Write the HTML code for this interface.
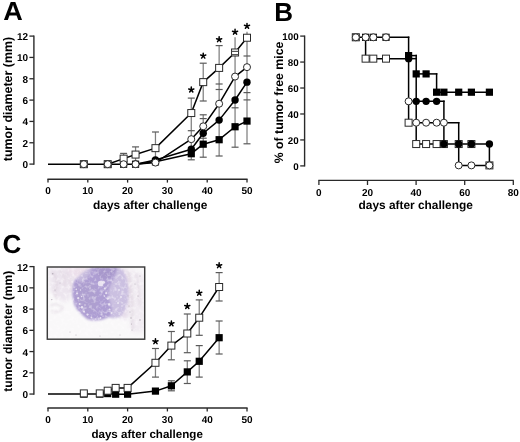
<!DOCTYPE html>
<html><head><meta charset="utf-8"><style>
html,body{margin:0;padding:0;background:#fff;}
body{width:520px;height:442px;overflow:hidden;}
svg{display:block;will-change:transform;}
text{font-family:"Liberation Sans",sans-serif;font-weight:bold;fill:#000;text-rendering:geometricPrecision;}
</style></head><body>
<svg width="520" height="442" viewBox="0 0 520 442" style="font-family:'Liberation Sans',sans-serif;font-weight:bold;">
<rect width="520" height="442" fill="#fff"/>
<text transform="translate(3.3,19.9) scale(1.04,1)" font-size="26">A</text>
<text x="274.30" y="20.90" font-size="26" text-anchor="start" >B</text>
<text x="2.40" y="253.20" font-size="26" text-anchor="start" >C</text>
<line x1="33.90" y1="35.50" x2="33.90" y2="164.70" stroke="#2a2a2a" stroke-width="1.4"/>
<line x1="29.40" y1="164.10" x2="33.90" y2="164.10" stroke="#2a2a2a" stroke-width="1.3"/>
<text x="28.00" y="168.10" font-size="10" text-anchor="end" >0</text>
<line x1="29.40" y1="142.77" x2="33.90" y2="142.77" stroke="#2a2a2a" stroke-width="1.3"/>
<text x="28.00" y="146.77" font-size="10" text-anchor="end" >2</text>
<line x1="29.40" y1="121.43" x2="33.90" y2="121.43" stroke="#2a2a2a" stroke-width="1.3"/>
<text x="28.00" y="125.43" font-size="10" text-anchor="end" >4</text>
<line x1="29.40" y1="100.10" x2="33.90" y2="100.10" stroke="#2a2a2a" stroke-width="1.3"/>
<text x="28.00" y="104.10" font-size="10" text-anchor="end" >6</text>
<line x1="29.40" y1="78.76" x2="33.90" y2="78.76" stroke="#2a2a2a" stroke-width="1.3"/>
<text x="28.00" y="82.76" font-size="10" text-anchor="end" >8</text>
<line x1="29.40" y1="57.43" x2="33.90" y2="57.43" stroke="#2a2a2a" stroke-width="1.3"/>
<text x="28.00" y="61.43" font-size="10" text-anchor="end" >10</text>
<line x1="29.40" y1="36.10" x2="33.90" y2="36.10" stroke="#2a2a2a" stroke-width="1.3"/>
<text x="28.00" y="40.10" font-size="10" text-anchor="end" >12</text>
<line x1="47.40" y1="179.20" x2="247.60" y2="179.20" stroke="#2a2a2a" stroke-width="1.4"/>
<line x1="48.00" y1="179.20" x2="48.00" y2="182.60" stroke="#2a2a2a" stroke-width="1.3"/>
<text x="48.00" y="194.10" font-size="10" text-anchor="middle" >0</text>
<line x1="87.80" y1="179.20" x2="87.80" y2="182.60" stroke="#2a2a2a" stroke-width="1.3"/>
<text x="87.80" y="194.10" font-size="10" text-anchor="middle" >10</text>
<line x1="127.60" y1="179.20" x2="127.60" y2="182.60" stroke="#2a2a2a" stroke-width="1.3"/>
<text x="127.60" y="194.10" font-size="10" text-anchor="middle" >20</text>
<line x1="167.40" y1="179.20" x2="167.40" y2="182.60" stroke="#2a2a2a" stroke-width="1.3"/>
<text x="167.40" y="194.10" font-size="10" text-anchor="middle" >30</text>
<line x1="207.20" y1="179.20" x2="207.20" y2="182.60" stroke="#2a2a2a" stroke-width="1.3"/>
<text x="207.20" y="194.10" font-size="10" text-anchor="middle" >40</text>
<line x1="247.00" y1="179.20" x2="247.00" y2="182.60" stroke="#2a2a2a" stroke-width="1.3"/>
<text x="247.00" y="194.10" font-size="10" text-anchor="middle" >50</text>
<text x="93.00" y="208.80" font-size="11.9" text-anchor="start" >days after challenge</text>
<text transform="translate(12.1,99.0) rotate(-90)" font-size="12.45" text-anchor="middle">tumor diameter (mm)</text>
<line x1="123.62" y1="153.40" x2="123.62" y2="164.00" stroke="#7f7f7f" stroke-width="1.25"/>
<line x1="120.12" y1="153.40" x2="127.12" y2="153.40" stroke="#5a5a5a" stroke-width="1.2"/>
<line x1="135.56" y1="146.90" x2="135.56" y2="164.00" stroke="#7f7f7f" stroke-width="1.25"/>
<line x1="132.06" y1="146.90" x2="139.06" y2="146.90" stroke="#5a5a5a" stroke-width="1.2"/>
<line x1="155.46" y1="132.00" x2="155.46" y2="162.00" stroke="#7f7f7f" stroke-width="1.25"/>
<line x1="151.96" y1="132.00" x2="158.96" y2="132.00" stroke="#5a5a5a" stroke-width="1.2"/>
<line x1="191.28" y1="98.10" x2="191.28" y2="159.80" stroke="#7f7f7f" stroke-width="1.25"/>
<line x1="187.78" y1="98.10" x2="194.78" y2="98.10" stroke="#5a5a5a" stroke-width="1.2"/>
<line x1="187.78" y1="130.70" x2="194.78" y2="130.70" stroke="#5a5a5a" stroke-width="1.2"/>
<line x1="187.78" y1="159.80" x2="194.78" y2="159.80" stroke="#5a5a5a" stroke-width="1.2"/>
<line x1="203.22" y1="63.20" x2="203.22" y2="101.00" stroke="#7f7f7f" stroke-width="1.25"/>
<line x1="199.72" y1="63.20" x2="206.72" y2="63.20" stroke="#5a5a5a" stroke-width="1.2"/>
<line x1="199.72" y1="101.00" x2="206.72" y2="101.00" stroke="#5a5a5a" stroke-width="1.2"/>
<line x1="203.22" y1="114.80" x2="203.22" y2="157.20" stroke="#7f7f7f" stroke-width="1.25"/>
<line x1="199.72" y1="114.80" x2="206.72" y2="114.80" stroke="#5a5a5a" stroke-width="1.2"/>
<line x1="199.72" y1="118.60" x2="206.72" y2="118.60" stroke="#5a5a5a" stroke-width="1.2"/>
<line x1="199.72" y1="138.20" x2="206.72" y2="138.20" stroke="#5a5a5a" stroke-width="1.2"/>
<line x1="199.72" y1="157.20" x2="206.72" y2="157.20" stroke="#5a5a5a" stroke-width="1.2"/>
<line x1="219.14" y1="45.60" x2="219.14" y2="156.00" stroke="#7f7f7f" stroke-width="1.25"/>
<line x1="215.64" y1="45.60" x2="222.64" y2="45.60" stroke="#5a5a5a" stroke-width="1.2"/>
<line x1="215.64" y1="84.00" x2="222.64" y2="84.00" stroke="#5a5a5a" stroke-width="1.2"/>
<line x1="215.64" y1="89.50" x2="222.64" y2="89.50" stroke="#5a5a5a" stroke-width="1.2"/>
<line x1="215.64" y1="156.00" x2="222.64" y2="156.00" stroke="#5a5a5a" stroke-width="1.2"/>
<line x1="235.06" y1="37.20" x2="235.06" y2="147.20" stroke="#7f7f7f" stroke-width="1.25"/>
<line x1="231.56" y1="107.80" x2="238.56" y2="107.80" stroke="#5a5a5a" stroke-width="1.2"/>
<line x1="231.56" y1="147.20" x2="238.56" y2="147.20" stroke="#5a5a5a" stroke-width="1.2"/>
<line x1="247.00" y1="31.80" x2="247.00" y2="143.80" stroke="#7f7f7f" stroke-width="1.25"/>
<line x1="243.50" y1="56.00" x2="250.50" y2="56.00" stroke="#5a5a5a" stroke-width="1.2"/>
<line x1="243.50" y1="92.60" x2="250.50" y2="92.60" stroke="#5a5a5a" stroke-width="1.2"/>
<line x1="243.50" y1="99.90" x2="250.50" y2="99.90" stroke="#5a5a5a" stroke-width="1.2"/>
<line x1="243.50" y1="143.80" x2="250.50" y2="143.80" stroke="#5a5a5a" stroke-width="1.2"/>
<polyline points="48.00,164.20 135.56,164.20" fill="none" stroke="#000" stroke-width="1.5" stroke-linejoin="round"/>
<polyline points="107.70,164.20 123.62,158.64 135.56,154.57 155.46,148.15 191.28,113.05 203.22,82.13 219.14,67.90 235.06,52.49 247.00,37.73" fill="none" stroke="#000" stroke-width="1.5" stroke-linejoin="round"/>
<polyline points="135.56,164.20 155.46,159.92 191.28,149.22 203.22,133.28 219.14,120.12 235.06,100.00 247.00,82.13" fill="none" stroke="#000" stroke-width="1.5" stroke-linejoin="round"/>
<polyline points="135.56,164.20 155.46,161.85 191.28,153.71 203.22,144.19 219.14,139.70 235.06,126.75 247.00,121.08" fill="none" stroke="#000" stroke-width="1.5" stroke-linejoin="round"/>
<polyline points="135.56,164.20 155.46,162.59 191.28,139.16 203.22,126.32 219.14,103.74 235.06,76.57 247.00,67.15" fill="none" stroke="#000" stroke-width="1.5" stroke-linejoin="round"/>
<circle cx="83.82" cy="164.20" r="3.7" fill="#000"/>
<circle cx="107.70" cy="164.20" r="3.7" fill="#000"/>
<circle cx="123.62" cy="164.20" r="3.7" fill="#000"/>
<circle cx="135.56" cy="164.20" r="3.7" fill="#000"/>
<circle cx="155.46" cy="159.92" r="3.7" fill="#000"/>
<circle cx="191.28" cy="149.22" r="3.7" fill="#000"/>
<circle cx="203.22" cy="133.28" r="3.7" fill="#000"/>
<circle cx="219.14" cy="120.12" r="3.7" fill="#000"/>
<circle cx="235.06" cy="100.00" r="3.7" fill="#000"/>
<circle cx="247.00" cy="82.13" r="3.7" fill="#000"/>
<rect x="80.22" y="160.60" width="7.2" height="7.2" fill="#000"/>
<rect x="104.10" y="160.60" width="7.2" height="7.2" fill="#000"/>
<rect x="120.02" y="160.60" width="7.2" height="7.2" fill="#000"/>
<rect x="131.96" y="160.60" width="7.2" height="7.2" fill="#000"/>
<rect x="151.86" y="158.25" width="7.2" height="7.2" fill="#000"/>
<rect x="187.68" y="150.11" width="7.2" height="7.2" fill="#000"/>
<rect x="199.62" y="140.59" width="7.2" height="7.2" fill="#000"/>
<rect x="215.54" y="136.10" width="7.2" height="7.2" fill="#000"/>
<rect x="231.46" y="123.15" width="7.2" height="7.2" fill="#000"/>
<rect x="243.40" y="117.48" width="7.2" height="7.2" fill="#000"/>
<rect x="80.32" y="160.70" width="7" height="7" fill="#fff" stroke="#2a2a2a" stroke-width="1"/>
<rect x="104.20" y="160.70" width="7" height="7" fill="#fff" stroke="#2a2a2a" stroke-width="1"/>
<rect x="120.12" y="155.14" width="7" height="7" fill="#fff" stroke="#2a2a2a" stroke-width="1"/>
<rect x="132.06" y="151.07" width="7" height="7" fill="#fff" stroke="#2a2a2a" stroke-width="1"/>
<rect x="151.96" y="144.65" width="7" height="7" fill="#fff" stroke="#2a2a2a" stroke-width="1"/>
<rect x="187.78" y="109.55" width="7" height="7" fill="#fff" stroke="#2a2a2a" stroke-width="1"/>
<rect x="199.72" y="78.63" width="7" height="7" fill="#fff" stroke="#2a2a2a" stroke-width="1"/>
<rect x="215.64" y="64.40" width="7" height="7" fill="#fff" stroke="#2a2a2a" stroke-width="1"/>
<rect x="231.56" y="48.99" width="7" height="7" fill="#fff" stroke="#2a2a2a" stroke-width="1"/>
<rect x="243.50" y="34.23" width="7" height="7" fill="#fff" stroke="#2a2a2a" stroke-width="1"/>
<circle cx="83.82" cy="164.20" r="3.5" fill="#fff" stroke="#2a2a2a" stroke-width="1"/>
<circle cx="107.70" cy="164.20" r="3.5" fill="#fff" stroke="#2a2a2a" stroke-width="1"/>
<circle cx="123.62" cy="164.20" r="3.5" fill="#fff" stroke="#2a2a2a" stroke-width="1"/>
<circle cx="135.56" cy="164.20" r="3.5" fill="#fff" stroke="#2a2a2a" stroke-width="1"/>
<circle cx="155.46" cy="162.59" r="3.5" fill="#fff" stroke="#2a2a2a" stroke-width="1"/>
<circle cx="191.28" cy="139.16" r="3.5" fill="#fff" stroke="#2a2a2a" stroke-width="1"/>
<circle cx="203.22" cy="126.32" r="3.5" fill="#fff" stroke="#2a2a2a" stroke-width="1"/>
<circle cx="219.14" cy="103.74" r="3.5" fill="#fff" stroke="#2a2a2a" stroke-width="1"/>
<circle cx="235.06" cy="76.57" r="3.5" fill="#fff" stroke="#2a2a2a" stroke-width="1"/>
<circle cx="247.00" cy="67.15" r="3.5" fill="#fff" stroke="#2a2a2a" stroke-width="1"/>
<line x1="231.76" y1="51.40" x2="238.36" y2="51.40" stroke="#555" stroke-width="1.2"/>
<line x1="231.76" y1="54.60" x2="238.36" y2="54.60" stroke="#555" stroke-width="1.2"/>
<path d="M191.28,89.80L191.28,87.10M191.28,89.80L193.85,88.97M191.28,89.80L192.87,91.98M191.28,89.80L189.69,91.98M191.28,89.80L188.71,88.97" stroke="#000" stroke-width="1.5" stroke-linecap="round" fill="none"/>
<path d="M203.22,55.90L203.22,53.20M203.22,55.90L205.79,55.07M203.22,55.90L204.81,58.08M203.22,55.90L201.63,58.08M203.22,55.90L200.65,55.07" stroke="#000" stroke-width="1.5" stroke-linecap="round" fill="none"/>
<path d="M219.14,39.50L219.14,36.80M219.14,39.50L221.71,38.67M219.14,39.50L220.73,41.68M219.14,39.50L217.55,41.68M219.14,39.50L216.57,38.67" stroke="#000" stroke-width="1.5" stroke-linecap="round" fill="none"/>
<path d="M235.06,32.00L235.06,29.30M235.06,32.00L237.63,31.17M235.06,32.00L236.65,34.18M235.06,32.00L233.47,34.18M235.06,32.00L232.49,31.17" stroke="#000" stroke-width="1.5" stroke-linecap="round" fill="none"/>
<path d="M247.00,26.10L247.00,23.40M247.00,26.10L249.57,25.27M247.00,26.10L248.59,28.28M247.00,26.10L245.41,28.28M247.00,26.10L244.43,25.27" stroke="#000" stroke-width="1.5" stroke-linecap="round" fill="none"/>
<line x1="304.60" y1="35.50" x2="304.60" y2="166.50" stroke="#2a2a2a" stroke-width="1.4"/>
<line x1="300.20" y1="165.90" x2="304.60" y2="165.90" stroke="#2a2a2a" stroke-width="1.3"/>
<text x="298.70" y="169.70" font-size="9.8" text-anchor="end" >0</text>
<line x1="300.20" y1="139.94" x2="304.60" y2="139.94" stroke="#2a2a2a" stroke-width="1.3"/>
<text x="298.70" y="143.74" font-size="9.8" text-anchor="end" >20</text>
<line x1="300.20" y1="113.98" x2="304.60" y2="113.98" stroke="#2a2a2a" stroke-width="1.3"/>
<text x="298.70" y="117.78" font-size="9.8" text-anchor="end" >40</text>
<line x1="300.20" y1="88.02" x2="304.60" y2="88.02" stroke="#2a2a2a" stroke-width="1.3"/>
<text x="298.70" y="91.82" font-size="9.8" text-anchor="end" >60</text>
<line x1="300.20" y1="62.06" x2="304.60" y2="62.06" stroke="#2a2a2a" stroke-width="1.3"/>
<text x="298.70" y="65.86" font-size="9.8" text-anchor="end" >80</text>
<line x1="300.20" y1="36.10" x2="304.60" y2="36.10" stroke="#2a2a2a" stroke-width="1.3"/>
<text x="298.70" y="39.90" font-size="9.8" text-anchor="end" >100</text>
<line x1="318.30" y1="180.40" x2="513.80" y2="180.40" stroke="#2a2a2a" stroke-width="1.4"/>
<line x1="318.90" y1="180.40" x2="318.90" y2="185.00" stroke="#2a2a2a" stroke-width="1.3"/>
<text x="318.90" y="195.50" font-size="10" text-anchor="middle" >0</text>
<line x1="367.50" y1="180.40" x2="367.50" y2="185.00" stroke="#2a2a2a" stroke-width="1.3"/>
<text x="367.50" y="195.50" font-size="10" text-anchor="middle" >20</text>
<line x1="416.10" y1="180.40" x2="416.10" y2="185.00" stroke="#2a2a2a" stroke-width="1.3"/>
<text x="416.10" y="195.50" font-size="10" text-anchor="middle" >40</text>
<line x1="464.70" y1="180.40" x2="464.70" y2="185.00" stroke="#2a2a2a" stroke-width="1.3"/>
<text x="464.70" y="195.50" font-size="10" text-anchor="middle" >60</text>
<line x1="513.30" y1="180.40" x2="513.30" y2="185.00" stroke="#2a2a2a" stroke-width="1.3"/>
<text x="513.30" y="195.50" font-size="10" text-anchor="middle" >80</text>
<text x="358.50" y="209.10" font-size="11.9" text-anchor="start" >days after challenge</text>
<text transform="translate(283.2,102.5) rotate(-90)" font-size="12.3" text-anchor="middle">% of tumor free mice</text>
<line x1="355.80" y1="37.30" x2="408.60" y2="37.30" stroke="#000" stroke-width="1.5" stroke-linecap="square"/>
<line x1="365.60" y1="58.65" x2="408.60" y2="58.65" stroke="#000" stroke-width="1.5" stroke-linecap="square"/>
<line x1="408.60" y1="55.60" x2="416.20" y2="55.60" stroke="#000" stroke-width="1.5" stroke-linecap="square"/>
<line x1="408.60" y1="58.65" x2="416.20" y2="58.65" stroke="#000" stroke-width="1.5" stroke-linecap="square"/>
<line x1="408.60" y1="101.35" x2="443.90" y2="101.35" stroke="#000" stroke-width="1.5" stroke-linecap="square"/>
<line x1="408.60" y1="122.70" x2="458.70" y2="122.70" stroke="#000" stroke-width="1.5" stroke-linecap="square"/>
<line x1="416.20" y1="73.90" x2="436.60" y2="73.90" stroke="#000" stroke-width="1.5" stroke-linecap="square"/>
<line x1="436.60" y1="92.20" x2="489.40" y2="92.20" stroke="#000" stroke-width="1.5" stroke-linecap="square"/>
<line x1="416.20" y1="144.05" x2="489.40" y2="144.05" stroke="#000" stroke-width="1.5" stroke-linecap="square"/>
<line x1="458.70" y1="165.40" x2="489.40" y2="165.40" stroke="#000" stroke-width="1.5" stroke-linecap="square"/>
<line x1="365.60" y1="37.30" x2="365.60" y2="58.65" stroke="#000" stroke-width="1.5" stroke-linecap="square"/>
<line x1="408.60" y1="37.30" x2="408.60" y2="122.70" stroke="#000" stroke-width="1.5" stroke-linecap="square"/>
<line x1="416.20" y1="55.60" x2="416.20" y2="144.05" stroke="#000" stroke-width="1.5" stroke-linecap="square"/>
<line x1="436.60" y1="73.90" x2="436.60" y2="92.20" stroke="#000" stroke-width="1.5" stroke-linecap="square"/>
<line x1="443.90" y1="101.35" x2="443.90" y2="144.05" stroke="#000" stroke-width="1.5" stroke-linecap="square"/>
<line x1="458.70" y1="122.70" x2="458.70" y2="165.40" stroke="#000" stroke-width="1.5" stroke-linecap="square"/>
<line x1="489.40" y1="144.05" x2="489.40" y2="165.40" stroke="#000" stroke-width="1.5" stroke-linecap="square"/>
<rect x="352.20" y="33.70" width="7.2" height="7.2" fill="#000"/>
<rect x="362.00" y="33.70" width="7.2" height="7.2" fill="#000"/>
<rect x="369.70" y="33.70" width="7.2" height="7.2" fill="#000"/>
<rect x="382.40" y="33.70" width="7.2" height="7.2" fill="#000"/>
<rect x="352.30" y="33.80" width="7" height="7" fill="#fff" stroke="#2a2a2a" stroke-width="1"/>
<rect x="362.10" y="55.15" width="7" height="7" fill="#fff" stroke="#2a2a2a" stroke-width="1"/>
<rect x="369.80" y="55.15" width="7" height="7" fill="#fff" stroke="#2a2a2a" stroke-width="1"/>
<rect x="382.50" y="55.15" width="7" height="7" fill="#fff" stroke="#2a2a2a" stroke-width="1"/>
<rect x="405.10" y="119.20" width="7" height="7" fill="#fff" stroke="#2a2a2a" stroke-width="1"/>
<rect x="412.70" y="140.55" width="7" height="7" fill="#fff" stroke="#2a2a2a" stroke-width="1"/>
<rect x="422.60" y="140.55" width="7" height="7" fill="#fff" stroke="#2a2a2a" stroke-width="1"/>
<rect x="433.10" y="140.55" width="7" height="7" fill="#fff" stroke="#2a2a2a" stroke-width="1"/>
<rect x="440.40" y="140.55" width="7" height="7" fill="#fff" stroke="#2a2a2a" stroke-width="1"/>
<rect x="455.20" y="140.55" width="7" height="7" fill="#fff" stroke="#2a2a2a" stroke-width="1"/>
<rect x="467.90" y="140.55" width="7" height="7" fill="#fff" stroke="#2a2a2a" stroke-width="1"/>
<rect x="485.90" y="161.90" width="7" height="7" fill="#fff" stroke="#2a2a2a" stroke-width="1"/>
<rect x="405.00" y="52.00" width="7.2" height="7.2" fill="#000"/>
<rect x="412.60" y="70.30" width="7.2" height="7.2" fill="#000"/>
<rect x="422.50" y="70.30" width="7.2" height="7.2" fill="#000"/>
<rect x="433.00" y="88.60" width="7.2" height="7.2" fill="#000"/>
<rect x="440.30" y="88.60" width="7.2" height="7.2" fill="#000"/>
<rect x="455.10" y="88.60" width="7.2" height="7.2" fill="#000"/>
<rect x="467.80" y="88.60" width="7.2" height="7.2" fill="#000"/>
<rect x="485.80" y="88.60" width="7.2" height="7.2" fill="#000"/>
<circle cx="408.60" cy="58.65" r="3.7" fill="#000"/>
<circle cx="416.20" cy="101.35" r="3.7" fill="#000"/>
<circle cx="426.10" cy="101.35" r="3.7" fill="#000"/>
<circle cx="436.60" cy="101.35" r="3.7" fill="#000"/>
<circle cx="443.90" cy="144.05" r="3.7" fill="#000"/>
<circle cx="458.70" cy="144.05" r="3.7" fill="#000"/>
<circle cx="471.40" cy="144.05" r="3.7" fill="#000"/>
<circle cx="489.40" cy="144.05" r="3.7" fill="#000"/>
<circle cx="355.80" cy="37.30" r="3.5" fill="#fff" stroke="#2a2a2a" stroke-width="1"/>
<circle cx="365.60" cy="37.30" r="3.5" fill="#fff" stroke="#2a2a2a" stroke-width="1"/>
<circle cx="373.30" cy="37.30" r="3.5" fill="#fff" stroke="#2a2a2a" stroke-width="1"/>
<circle cx="386.00" cy="37.30" r="3.5" fill="#fff" stroke="#2a2a2a" stroke-width="1"/>
<circle cx="408.60" cy="101.35" r="3.5" fill="#fff" stroke="#2a2a2a" stroke-width="1"/>
<circle cx="416.20" cy="122.70" r="3.5" fill="#fff" stroke="#2a2a2a" stroke-width="1"/>
<circle cx="426.10" cy="122.70" r="3.5" fill="#fff" stroke="#2a2a2a" stroke-width="1"/>
<circle cx="436.60" cy="122.70" r="3.5" fill="#fff" stroke="#2a2a2a" stroke-width="1"/>
<circle cx="443.90" cy="122.70" r="3.5" fill="#fff" stroke="#2a2a2a" stroke-width="1"/>
<circle cx="458.70" cy="165.40" r="3.5" fill="#fff" stroke="#2a2a2a" stroke-width="1"/>
<circle cx="471.40" cy="165.40" r="3.5" fill="#fff" stroke="#2a2a2a" stroke-width="1"/>
<circle cx="489.40" cy="165.40" r="3.5" fill="#fff" stroke="#2a2a2a" stroke-width="1"/>
<line x1="33.90" y1="266.01" x2="33.90" y2="394.65" stroke="#2a2a2a" stroke-width="1.4"/>
<line x1="29.40" y1="394.05" x2="33.90" y2="394.05" stroke="#2a2a2a" stroke-width="1.3"/>
<text x="28.00" y="398.05" font-size="10" text-anchor="end" >0</text>
<line x1="29.40" y1="372.81" x2="33.90" y2="372.81" stroke="#2a2a2a" stroke-width="1.3"/>
<text x="28.00" y="376.81" font-size="10" text-anchor="end" >2</text>
<line x1="29.40" y1="351.57" x2="33.90" y2="351.57" stroke="#2a2a2a" stroke-width="1.3"/>
<text x="28.00" y="355.57" font-size="10" text-anchor="end" >4</text>
<line x1="29.40" y1="330.33" x2="33.90" y2="330.33" stroke="#2a2a2a" stroke-width="1.3"/>
<text x="28.00" y="334.33" font-size="10" text-anchor="end" >6</text>
<line x1="29.40" y1="309.09" x2="33.90" y2="309.09" stroke="#2a2a2a" stroke-width="1.3"/>
<text x="28.00" y="313.09" font-size="10" text-anchor="end" >8</text>
<line x1="29.40" y1="287.85" x2="33.90" y2="287.85" stroke="#2a2a2a" stroke-width="1.3"/>
<text x="28.00" y="291.85" font-size="10" text-anchor="end" >10</text>
<line x1="29.40" y1="266.61" x2="33.90" y2="266.61" stroke="#2a2a2a" stroke-width="1.3"/>
<text x="28.00" y="270.61" font-size="10" text-anchor="end" >12</text>
<line x1="47.40" y1="408.05" x2="247.60" y2="408.05" stroke="#2a2a2a" stroke-width="1.4"/>
<line x1="48.00" y1="408.05" x2="48.00" y2="411.45" stroke="#2a2a2a" stroke-width="1.3"/>
<text x="48.00" y="423.00" font-size="10" text-anchor="middle" >0</text>
<line x1="87.80" y1="408.05" x2="87.80" y2="411.45" stroke="#2a2a2a" stroke-width="1.3"/>
<text x="87.80" y="423.00" font-size="10" text-anchor="middle" >10</text>
<line x1="127.60" y1="408.05" x2="127.60" y2="411.45" stroke="#2a2a2a" stroke-width="1.3"/>
<text x="127.60" y="423.00" font-size="10" text-anchor="middle" >20</text>
<line x1="167.40" y1="408.05" x2="167.40" y2="411.45" stroke="#2a2a2a" stroke-width="1.3"/>
<text x="167.40" y="423.00" font-size="10" text-anchor="middle" >30</text>
<line x1="207.20" y1="408.05" x2="207.20" y2="411.45" stroke="#2a2a2a" stroke-width="1.3"/>
<text x="207.20" y="423.00" font-size="10" text-anchor="middle" >40</text>
<line x1="247.00" y1="408.05" x2="247.00" y2="411.45" stroke="#2a2a2a" stroke-width="1.3"/>
<text x="247.00" y="423.00" font-size="10" text-anchor="middle" >50</text>
<text x="91.40" y="437.90" font-size="11.6" text-anchor="start" >days after challenge</text>
<text transform="translate(12.0,331.2) rotate(-90)" font-size="12.1" text-anchor="middle">tumor diameter (mm)</text>
<defs>
<radialGradient id="blob" cx="0.5" cy="0.5" r="0.5">
<stop offset="0" stop-color="#9c88cc"/><stop offset="0.7" stop-color="#a795d2"/><stop offset="1" stop-color="#a795d2" stop-opacity="0"/>
</radialGradient>
<filter id="blur1" x="-20%" y="-20%" width="140%" height="140%"><feGaussianBlur stdDeviation="0.9"/></filter><filter id="blur05" x="-50%" y="-50%" width="200%" height="200%"><feGaussianBlur stdDeviation="0.65"/></filter><filter id="noise" x="0" y="0" width="100%" height="100%" filterUnits="userSpaceOnUse"><feTurbulence type="fractalNoise" baseFrequency="0.28" numOctaves="2" seed="7"/><feColorMatrix type="matrix" values="0 0 0 0 1  0 0 0 0 0.98  0 0 0 0 1  1.5 0 0 0 -0.72"/><feGaussianBlur stdDeviation="0.45"/></filter><filter id="blur12" x="-30%" y="-30%" width="160%" height="160%"><feGaussianBlur stdDeviation="1.1"/></filter><filter id="blur2" x="-20%" y="-20%" width="140%" height="140%"><feGaussianBlur stdDeviation="2"/></filter>
<clipPath id="mclip"><rect x="47.5" y="267" width="97.5" height="72"/></clipPath>
</defs>
<rect x="47.3" y="266.8" width="97.9" height="72.6" fill="#f9f8f9"/>
<g clip-path="url(#mclip)">
<g filter="url(#blur2)">
<path d="M49,268 C60,267 72,267 84,268 C80,274 76,280 73,288 C71,296 70,300 66,302 C60,300 54,296 50,290 Z" fill="#ece5ee"/>
<path d="M66,267 L92,267 C90,272 86,276 78,278 C72,276 68,272 66,267 Z" fill="#ecdfea"/>
<path d="M117,267 C124,268 130,270 134,276 C132,290 130,304 128,318 C124,320 120,318 118,314 C120,300 121,285 117,267 Z" fill="#e6dcea"/>
<path d="M126,268 C134,270 142,272 145,276 L145,330 C140,334 134,334 130,330 C132,310 132,290 126,268 Z" fill="#f1ecf2"/>
</g>
<g filter="url(#blur1)">
<path d="M104,268 L121,268 C125,272 128,281 128.5,292 C128.5,302 126,310 121,316 C116,319 110,319 106,316 Z" fill="#cbc0e1"/>
<path d="M90,267.5 L117,267.5 C117,272 114,278 111,284 C108,290 108,296 110,302 C112,307 113,312 110,316 C106,319 100,320.5 94,320.5 C90,320.5 87,319.5 84,316.5 C80,313 77,310 75,306.5 C73,302 72.3,297 72.3,291 C72.3,286 73.5,282 75,280 C78,277 82,275 86,272 C88,270 89,268.5 90,267.5 Z" fill="#ae9ed3"/>
<path d="M76,286 C80,281 88,281 94,284 C98,290 98,300 96,308 C92,314 85,313 80,307 C77,301 75,292 76,286 Z" fill="#ae9fd0"/>
<path d="M96,267.5 L117,267.5 C116,273 112,278 106,279 C100,279 97,274 96,267.5 Z" fill="#a898cc"/>
<path d="M80,275 C84,271 88,268 92,267.5 C92,272 88,278 82,282 C78,283 76,280 80,275 Z" fill="#cabfe0" opacity="0.8"/>
</g>
<g filter="url(#blur12)" fill="none" stroke-width="2" opacity="0.55">
<path d="M52,272 C56,276 58,282 56,288 C54,292 55,296 58,299" stroke="#d9cdd9"/>
<path d="M60,270 C64,274 66,280 64,286" stroke="#ddd0dc"/>
<path d="M66,272 C70,278 72,284 70,292" stroke="#e0d3e0"/>
<path d="M50,306 C55,303 60,304 63,308 C60,312 55,313 51,311" stroke="#ddd3de"/>
<path d="M128,272 C131,280 130,290 132,300 C133,310 131,320 133,330" stroke="#d8ccd8"/>
<path d="M136,274 C139,284 138,294 140,306" stroke="#ddd2de"/>
</g>
<rect x="47" y="266" width="99" height="74" filter="url(#noise)"/>
<g filter="url(#blur05)">
<circle cx="100.6" cy="283.5" r="2.86" fill="#f1ecf6" opacity="0.85"/>
<circle cx="103.5" cy="282.3" r="1.54" fill="#f1ecf6" opacity="0.85"/>
<circle cx="104.8" cy="288.5" r="1.10" fill="#f1ecf6" opacity="0.85"/>
<circle cx="106.2" cy="293.2" r="1.10" fill="#f1ecf6" opacity="0.85"/>
<circle cx="107.8" cy="298.6" r="1.21" fill="#f1ecf6" opacity="0.85"/>
<circle cx="109.0" cy="304.3" r="1.10" fill="#f1ecf6" opacity="0.85"/>
<circle cx="109.6" cy="309.4" r="0.99" fill="#f1ecf6" opacity="0.85"/>
<circle cx="111.5" cy="313" r="0.99" fill="#f1ecf6" opacity="0.85"/>
<circle cx="104.5" cy="296" r="0.66" fill="#f1ecf6" opacity="0.85"/>
<circle cx="77.0" cy="293.5" r="0.99" fill="#f1ecf6" opacity="0.85"/>
<circle cx="78.2" cy="298.2" r="1.10" fill="#f1ecf6" opacity="0.85"/>
<circle cx="79.6" cy="303.9" r="0.99" fill="#f1ecf6" opacity="0.85"/>
<circle cx="82.0" cy="307.3" r="1.21" fill="#f1ecf6" opacity="0.85"/>
<circle cx="84.0" cy="311.4" r="0.99" fill="#f1ecf6" opacity="0.85"/>
<circle cx="87.5" cy="314.6" r="1.10" fill="#f1ecf6" opacity="0.85"/>
<circle cx="91.4" cy="317.5" r="0.88" fill="#f1ecf6" opacity="0.85"/>
<circle cx="76.3" cy="289.2" r="0.77" fill="#f1ecf6" opacity="0.85"/>
<circle cx="95.8" cy="319.0" r="0.77" fill="#f1ecf6" opacity="0.85"/>
<circle cx="100.5" cy="318.0" r="0.88" fill="#f1ecf6" opacity="0.85"/>
<circle cx="81.5" cy="296.5" r="0.66" fill="#f1ecf6" opacity="0.85"/>
<circle cx="85" cy="305" r="0.66" fill="#f1ecf6" opacity="0.85"/>
<circle cx="80.5" cy="290" r="0.66" fill="#f1ecf6" opacity="0.85"/>
<circle cx="119" cy="290" r="0.88" fill="#f1ecf6" opacity="0.85"/>
<circle cx="121" cy="297" r="0.99" fill="#f1ecf6" opacity="0.85"/>
<circle cx="118" cy="303" r="0.88" fill="#f1ecf6" opacity="0.85"/>
<circle cx="122" cy="306" r="0.77" fill="#f1ecf6" opacity="0.85"/>
<circle cx="116" cy="284" r="0.77" fill="#f1ecf6" opacity="0.85"/>
</g>
<circle cx="52.7" cy="273.7" r="0.8" fill="#aaa2ae" opacity="0.8"/>
<circle cx="51.8" cy="299.6" r="0.7" fill="#aaa2ae" opacity="0.8"/>
<circle cx="55" cy="290" r="0.6" fill="#aaa2ae" opacity="0.8"/>
<circle cx="60" cy="283" r="0.5" fill="#aaa2ae" opacity="0.8"/>
<circle cx="129" cy="306" r="0.6" fill="#aaa2ae" opacity="0.8"/>
<circle cx="130" cy="312" r="0.6" fill="#aaa2ae" opacity="0.8"/>
<circle cx="131" cy="318" r="0.7" fill="#aaa2ae" opacity="0.8"/>
<circle cx="131.5" cy="324" r="0.6" fill="#aaa2ae" opacity="0.8"/>
<circle cx="132" cy="330" r="0.6" fill="#aaa2ae" opacity="0.8"/>
<circle cx="140" cy="320" r="0.8" fill="#aaa2ae" opacity="0.8"/>
<circle cx="138" cy="296" r="0.6" fill="#aaa2ae" opacity="0.8"/>
<circle cx="135" cy="284" r="0.6" fill="#aaa2ae" opacity="0.8"/>
<circle cx="140" cy="276" r="0.6" fill="#aaa2ae" opacity="0.8"/>
<circle cx="128" cy="296" r="0.5" fill="#aaa2ae" opacity="0.8"/>
<circle cx="70" cy="332" r="0.5" fill="#aaa2ae" opacity="0.8"/>
<circle cx="76" cy="335" r="0.6" fill="#aaa2ae" opacity="0.8"/>
<circle cx="120" cy="335" r="0.5" fill="#aaa2ae" opacity="0.8"/>
<circle cx="100" cy="336" r="0.5" fill="#aaa2ae" opacity="0.8"/>
</g>
<rect x="47.3" y="267.0" width="97.4" height="72.2" fill="none" stroke="#3c3c3c" stroke-width="1.45"/>
<line x1="155.46" y1="348.50" x2="155.46" y2="377.10" stroke="#7f7f7f" stroke-width="1.25"/>
<line x1="151.96" y1="348.50" x2="158.96" y2="348.50" stroke="#5a5a5a" stroke-width="1.2"/>
<line x1="151.96" y1="377.10" x2="158.96" y2="377.10" stroke="#5a5a5a" stroke-width="1.2"/>
<line x1="171.38" y1="331.50" x2="171.38" y2="359.80" stroke="#7f7f7f" stroke-width="1.25"/>
<line x1="167.88" y1="331.50" x2="174.88" y2="331.50" stroke="#5a5a5a" stroke-width="1.2"/>
<line x1="167.88" y1="359.80" x2="174.88" y2="359.80" stroke="#5a5a5a" stroke-width="1.2"/>
<line x1="187.30" y1="314.00" x2="187.30" y2="352.70" stroke="#7f7f7f" stroke-width="1.25"/>
<line x1="183.80" y1="314.00" x2="190.80" y2="314.00" stroke="#5a5a5a" stroke-width="1.2"/>
<line x1="183.80" y1="352.70" x2="190.80" y2="352.70" stroke="#5a5a5a" stroke-width="1.2"/>
<line x1="199.24" y1="299.90" x2="199.24" y2="335.30" stroke="#7f7f7f" stroke-width="1.25"/>
<line x1="195.74" y1="299.90" x2="202.74" y2="299.90" stroke="#5a5a5a" stroke-width="1.2"/>
<line x1="195.74" y1="335.30" x2="202.74" y2="335.30" stroke="#5a5a5a" stroke-width="1.2"/>
<line x1="219.14" y1="272.60" x2="219.14" y2="301.00" stroke="#7f7f7f" stroke-width="1.25"/>
<line x1="215.64" y1="272.60" x2="222.64" y2="272.60" stroke="#5a5a5a" stroke-width="1.2"/>
<line x1="215.64" y1="301.00" x2="222.64" y2="301.00" stroke="#5a5a5a" stroke-width="1.2"/>
<line x1="171.38" y1="380.80" x2="171.38" y2="390.80" stroke="#7f7f7f" stroke-width="1.25"/>
<line x1="167.88" y1="380.80" x2="174.88" y2="380.80" stroke="#5a5a5a" stroke-width="1.2"/>
<line x1="167.88" y1="390.80" x2="174.88" y2="390.80" stroke="#5a5a5a" stroke-width="1.2"/>
<line x1="187.30" y1="360.80" x2="187.30" y2="383.50" stroke="#7f7f7f" stroke-width="1.25"/>
<line x1="183.80" y1="360.80" x2="190.80" y2="360.80" stroke="#5a5a5a" stroke-width="1.2"/>
<line x1="183.80" y1="383.50" x2="190.80" y2="383.50" stroke="#5a5a5a" stroke-width="1.2"/>
<line x1="199.24" y1="345.60" x2="199.24" y2="377.10" stroke="#7f7f7f" stroke-width="1.25"/>
<line x1="195.74" y1="345.60" x2="202.74" y2="345.60" stroke="#5a5a5a" stroke-width="1.2"/>
<line x1="195.74" y1="377.10" x2="202.74" y2="377.10" stroke="#5a5a5a" stroke-width="1.2"/>
<line x1="219.14" y1="321.00" x2="219.14" y2="354.00" stroke="#7f7f7f" stroke-width="1.25"/>
<line x1="215.64" y1="321.00" x2="222.64" y2="321.00" stroke="#5a5a5a" stroke-width="1.2"/>
<line x1="215.64" y1="354.00" x2="222.64" y2="354.00" stroke="#5a5a5a" stroke-width="1.2"/>
<polyline points="48.00,394.10 99.74,394.10" fill="none" stroke="#000" stroke-width="1.5" stroke-linejoin="round"/>
<polyline points="99.74,394.10 107.70,393.60 115.66,394.20 127.60,394.20 155.46,391.10 171.38,385.80 187.30,371.90 199.24,361.30 219.14,337.70" fill="none" stroke="#000" stroke-width="1.5" stroke-linejoin="round"/>
<polyline points="99.74,393.40 107.70,390.70 115.66,387.90 127.60,387.90 155.46,362.80 171.38,345.60 187.30,333.50 199.24,317.70 219.14,287.00" fill="none" stroke="#000" stroke-width="1.5" stroke-linejoin="round"/>
<rect x="80.22" y="390.50" width="7.2" height="7.2" fill="#000"/>
<rect x="96.14" y="390.50" width="7.2" height="7.2" fill="#000"/>
<rect x="104.10" y="390.00" width="7.2" height="7.2" fill="#000"/>
<rect x="112.06" y="390.60" width="7.2" height="7.2" fill="#000"/>
<rect x="124.00" y="390.60" width="7.2" height="7.2" fill="#000"/>
<rect x="151.86" y="387.50" width="7.2" height="7.2" fill="#000"/>
<rect x="167.78" y="382.20" width="7.2" height="7.2" fill="#000"/>
<rect x="183.70" y="368.30" width="7.2" height="7.2" fill="#000"/>
<rect x="195.64" y="357.70" width="7.2" height="7.2" fill="#000"/>
<rect x="215.54" y="334.10" width="7.2" height="7.2" fill="#000"/>
<rect x="80.32" y="389.90" width="7" height="7" fill="#fff" stroke="#2a2a2a" stroke-width="1"/>
<rect x="96.24" y="389.90" width="7" height="7" fill="#fff" stroke="#2a2a2a" stroke-width="1"/>
<rect x="104.20" y="387.20" width="7" height="7" fill="#fff" stroke="#2a2a2a" stroke-width="1"/>
<rect x="112.16" y="384.40" width="7" height="7" fill="#fff" stroke="#2a2a2a" stroke-width="1"/>
<rect x="124.10" y="384.40" width="7" height="7" fill="#fff" stroke="#2a2a2a" stroke-width="1"/>
<rect x="151.96" y="359.30" width="7" height="7" fill="#fff" stroke="#2a2a2a" stroke-width="1"/>
<rect x="167.88" y="342.10" width="7" height="7" fill="#fff" stroke="#2a2a2a" stroke-width="1"/>
<rect x="183.80" y="330.00" width="7" height="7" fill="#fff" stroke="#2a2a2a" stroke-width="1"/>
<rect x="195.74" y="314.20" width="7" height="7" fill="#fff" stroke="#2a2a2a" stroke-width="1"/>
<rect x="215.64" y="283.50" width="7" height="7" fill="#fff" stroke="#2a2a2a" stroke-width="1"/>
<path d="M155.46,341.50L155.46,338.80M155.46,341.50L158.03,340.67M155.46,341.50L157.05,343.68M155.46,341.50L153.87,343.68M155.46,341.50L152.89,340.67" stroke="#000" stroke-width="1.5" stroke-linecap="round" fill="none"/>
<path d="M171.38,323.60L171.38,320.90M171.38,323.60L173.95,322.77M171.38,323.60L172.97,325.78M171.38,323.60L169.79,325.78M171.38,323.60L168.81,322.77" stroke="#000" stroke-width="1.5" stroke-linecap="round" fill="none"/>
<path d="M187.30,306.30L187.30,303.60M187.30,306.30L189.87,305.47M187.30,306.30L188.89,308.48M187.30,306.30L185.71,308.48M187.30,306.30L184.73,305.47" stroke="#000" stroke-width="1.5" stroke-linecap="round" fill="none"/>
<path d="M199.24,293.00L199.24,290.30M199.24,293.00L201.81,292.17M199.24,293.00L200.83,295.18M199.24,293.00L197.65,295.18M199.24,293.00L196.67,292.17" stroke="#000" stroke-width="1.5" stroke-linecap="round" fill="none"/>
<path d="M219.14,265.50L219.14,262.80M219.14,265.50L221.71,264.67M219.14,265.50L220.73,267.68M219.14,265.50L217.55,267.68M219.14,265.50L216.57,264.67" stroke="#000" stroke-width="1.5" stroke-linecap="round" fill="none"/>
</svg>
</body></html>
